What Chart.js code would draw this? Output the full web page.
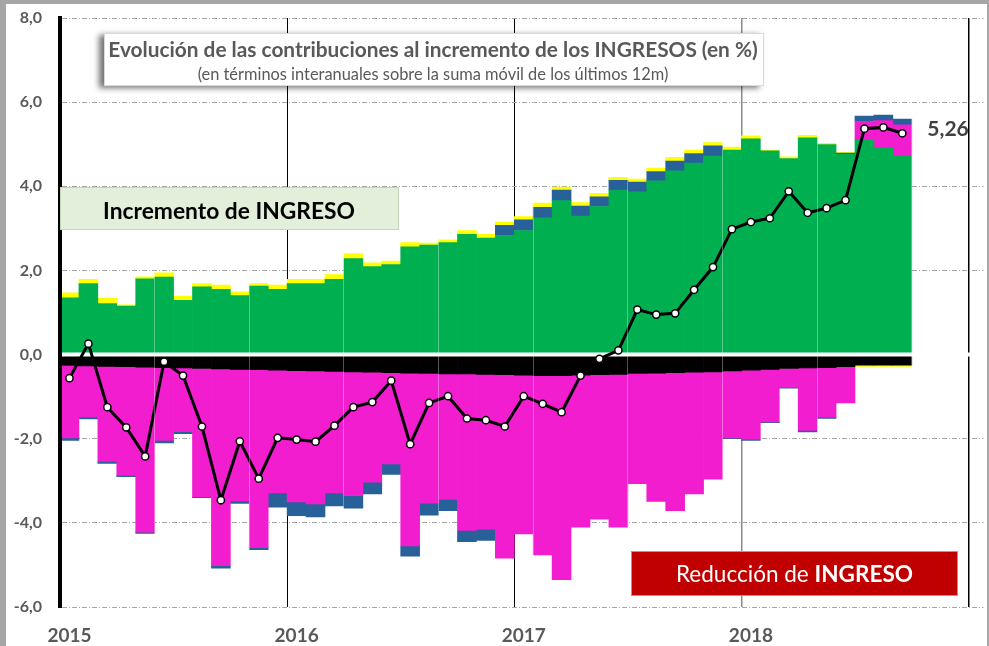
<!DOCTYPE html>
<html>
<head>
<meta charset="utf-8">
<script src="https://cdn.jsdelivr.net/npm/chart.js@4.4.1/dist/chart.umd.min.js"></script>
<style>
html,body{margin:0;padding:0;background:#fff;overflow:hidden}
canvas{display:block}
</style>
</head>
<body>
<canvas id="c" width="989" height="646"></canvas>
<script>
// ---------- DATA ----------
const months = ['ene-15','feb-15','mar-15','abr-15','may-15','jun-15','jul-15','ago-15','sep-15','oct-15','nov-15','dic-15',
                'ene-16','feb-16','mar-16','abr-16','may-16','jun-16','jul-16','ago-16','sep-16','oct-16','nov-16','dic-16',
                'ene-17','feb-17','mar-17','abr-17','may-17','jun-17','jul-17','ago-17','sep-17','oct-17','nov-17','dic-17',
                'ene-18','feb-18','mar-18','abr-18','may-18','jun-18','jul-18','ago-18','sep-18'];

const green   = [1.35,1.69,1.21,1.15,1.80,1.84,1.29,1.61,1.55,1.40,1.63,1.55,1.69,1.69,1.79,2.28,2.09,2.14,2.56,2.60,2.66,2.86,2.77,2.83,2.95,3.25,3.66,3.29,3.52,3.91,3.87,4.13,4.37,4.55,4.72,4.86,5.13,4.84,4.66,5.15,4.99,4.76,5.10,4.91,4.71];
const black   = [-0.26,-0.27,-0.28,-0.29,-0.30,-0.31,-0.32,-0.33,-0.34,-0.35,-0.36,-0.37,-0.38,-0.39,-0.40,-0.41,-0.42,-0.43,-0.44,-0.45,-0.46,-0.46,-0.47,-0.48,-0.49,-0.50,-0.50,-0.49,-0.48,-0.47,-0.45,-0.44,-0.43,-0.42,-0.41,-0.39,-0.37,-0.35,-0.33,-0.32,-0.31,-0.29,-0.25,-0.25,-0.25];
const magenta = [-1.72,-1.21,-2.26,-2.58,-3.92,-1.73,-1.51,-3.05,-4.68,-3.13,-4.23,-2.92,-3.12,-3.16,-2.89,-2.94,-2.61,-2.17,-4.11,-3.08,-2.98,-3.72,-3.68,-4.36,-3.77,-4.26,-4.85,-3.61,-3.43,-3.63,-2.62,-3.05,-3.28,-2.89,-2.55,-1.59,-1.64,-1.25,-0.45,-1.48,-1.18,-0.86,0.44,0.65,0.75];
const blue    = [-0.06,-0.05,-0.05,-0.03,-0.03,-0.06,-0.05,-0.02,-0.06,-0.06,-0.05,-0.34,-0.33,-0.31,-0.31,-0.30,-0.28,-0.25,-0.24,-0.29,-0.27,-0.27,-0.27,0.24,0.25,0.25,0.25,0.24,0.23,0.23,0.23,0.22,0.23,0.23,0.24,-0.02,-0.03,-0.02,-0.02,-0.04,-0.03,0.03,0.13,0.13,0.14];
const yellow  = [0.12,0.10,0.13,0.03,0.05,0.10,0.10,0.08,0.10,0.09,0.06,0.10,0.10,0.10,0.11,0.12,0.09,0.08,0.10,0.05,0.07,0.09,0.09,0.08,0.08,0.10,0.07,0.08,0.08,0.07,0.07,0.08,0.09,0.08,0.08,0.07,0.07,0.02,0.04,0.06,0.03,0.02,-0.03,-0.03,-0.03];
const total   = [-0.56,0.26,-1.25,-1.73,-2.42,-0.17,-0.50,-1.71,-3.46,-2.06,-2.95,-1.98,-2.02,-2.07,-1.69,-1.25,-1.13,-0.62,-2.13,-1.15,-0.99,-1.52,-1.56,-1.71,-0.99,-1.17,-1.37,-0.50,-0.10,0.10,1.07,0.95,0.98,1.54,2.08,2.98,3.15,3.24,3.88,3.37,3.48,3.67,5.37,5.40,5.26];

const yearTicks  = [0,12,24,36,48];
const yearLabels = ['2015','2016','2017','2018',''];
const minorTicks = [5,10,15,20,25,30,35,40,45];

const titleText    = 'Evolución de las contribuciones al incremento de los INGRESOS (en %)';
const subtitleText = '(en términos interanuales sobre la suma móvil de los últimos 12m)';
const incText      = 'Incremento de INGRESO';
const redTextA     = 'Reducción de ';
const redTextB     = 'INGRESO';

// ---------- STYLE ----------
const FONT = 'Lato, "Open Sans", "DejaVu Sans", sans-serif';
const GRAY_TXT = '#595959';
const pts = arr => arr.map((v, i) => ({x: i + 0.5, y: v}));
const fmt = v => v.toFixed(2).replace('.', ',');

function fitSize(ctx, text, weight, target, base) {
  ctx.font = weight + ' ' + base + 'px ' + FONT;
  return base * target / ctx.measureText(text).width;
}

const framePlugin = {
  id: 'frame',
  beforeDraw(chart) {
    const c = chart.ctx;
    c.save();
    c.fillStyle = '#A6A6A6';
    c.fillRect(0, 0, chart.width, chart.height);
    c.fillStyle = '#FFFFFF';
    c.fillRect(6, 4, chart.width - 8, chart.height - 4);
    c.restore();
  }
};

const zeroLinePlugin = {
  id: 'zeroLine',
  beforeDatasetDraw(chart, args) {
    if (args.index !== 0) return;
    const c = chart.ctx;
    const y = chart.scales.y.getPixelForValue(0);
    c.save();
    c.strokeStyle = '#FFFFFF';
    c.lineWidth = 4;
    c.beginPath();
    c.moveTo(chart.chartArea.left + 2, y);
    c.lineTo(chart.chartArea.right, y);
    c.stroke();
    c.restore();
  }
};

const overlayPlugin = {
  id: 'overlay',
  afterDraw(chart) {
    const c = chart.ctx;
    c.save();
    // title box with shadow
    c.shadowColor = 'rgba(0,0,0,0.55)';
    c.shadowBlur = 6;
    c.shadowOffsetX = -5;
    c.shadowOffsetY = 2;
    c.fillStyle = '#FFFFFF';
    c.fillRect(104, 33, 660, 53);
    c.shadowColor = 'rgba(0,0,0,0)';
    c.shadowBlur = 0; c.shadowOffsetX = 0; c.shadowOffsetY = 0;
    c.strokeStyle = '#D9D9D9';
    c.lineWidth = 1;
    c.strokeRect(104.5, 33.5, 659, 52);

    c.fillStyle = GRAY_TXT;
    c.textAlign = 'center';
    c.textBaseline = 'alphabetic';
    let s = fitSize(c, titleText, 'bold', 650, 17);
    c.font = 'bold ' + s + 'px ' + FONT;
    c.fillText(titleText, 433, 56.5);
    s = fitSize(c, subtitleText, 'normal', 471, 13);
    c.font = 'normal ' + s + 'px ' + FONT;
    c.fillText(subtitleText, 433, 80);

    // Incremento box
    c.fillStyle = '#E2EFDA';
    c.fillRect(60, 187, 339, 43);
    c.strokeStyle = '#C3D6B8';
    c.strokeRect(60.5, 187.5, 338, 42);
    c.fillStyle = '#000000';
    s = fitSize(c, incText, 'bold', 252, 21);
    c.font = 'bold ' + s + 'px ' + FONT;
    c.fillText(incText, 229, 218.5);

    // Reducción box
    c.fillStyle = '#C00000';
    c.fillRect(631, 551, 327, 45);
    c.strokeStyle = '#C98C8C';
    c.strokeRect(631.5, 551.5, 326, 44);
    c.font = 'normal 22px ' + FONT;
    const wa = c.measureText(redTextA).width;
    c.font = 'bold 22px ' + FONT;
    const wb = c.measureText(redTextB).width;
    const k = 237 / (wa + wb);
    const sz = 22 * k;
    const x0 = 794.5 - (wa + wb) * k / 2;
    c.fillStyle = '#FFFFFF';
    c.textAlign = 'left';
    c.font = 'normal ' + sz + 'px ' + FONT;
    c.fillText(redTextA, x0, 581.5);
    c.font = 'bold ' + sz + 'px ' + FONT;
    c.fillText(redTextB, x0 + wa * k, 581.5);

    // last value label
    const last = total.length - 1;
    const px = chart.scales.x.getPixelForValue(last + 0.5);
    const py = chart.scales.y.getPixelForValue(total[last]);
    c.fillStyle = '#404040';
    c.font = 'bold 21px ' + FONT;
    c.textAlign = 'left';
    c.textBaseline = 'middle';
    c.fillText(fmt(total[last]), px + 25, py - 4);
    c.restore();
  }
};

const barDefaults = {type: 'bar', stack: 'a', order: 1, barPercentage: 1, categoryPercentage: 1, borderWidth: 0};

new Chart(document.getElementById('c'), {
  type: 'bar',
  data: {
    labels: months,
    datasets: [
      {type: 'line', label: 'Total', data: pts(total), order: 0, stack: 'line',
       borderColor: '#000000', borderWidth: 3, tension: 0,
       pointRadius: 3.6, pointBackgroundColor: '#FFFFFF', pointBorderColor: '#000000', pointBorderWidth: 1.5},
      Object.assign({label: 'Verde', data: pts(green), backgroundColor: '#00B050'}, barDefaults),
      Object.assign({label: 'Negro', data: pts(black), backgroundColor: '#000000'}, barDefaults),
      Object.assign({label: 'Magenta', data: pts(magenta), backgroundColor: '#F11DCF'}, barDefaults),
      Object.assign({label: 'Azul', data: pts(blue), backgroundColor: '#28609A'}, barDefaults),
      Object.assign({label: 'Amarillo', data: pts(yellow), backgroundColor: '#FFFF00'}, barDefaults)
    ]
  },
  options: {
    responsive: false,
    devicePixelRatio: 1,
    animation: false,
    events: [],
    layout: {padding: {top: 18, right: 2, left: 0, bottom: 0}},
    plugins: {legend: {display: false}, tooltip: {enabled: false}},
    scales: {
      x: {
        type: 'linear', position: 'bottom', min: 0, max: 48.79, offset: false,
        afterBuildTicks: s => { s.ticks = yearTicks.map(v => ({value: v})); },
        ticks: {autoSkip: false, maxRotation: 0, labelOffset: 9.5, padding: 17,
                color: GRAY_TXT, font: {family: FONT, size: 19, weight: 'bold'},
                callback: (v, i) => yearLabels[i]},
        grid: {drawTicks: false, offset: false,
               color: c => ['rgba(0,0,0,0)', '#000000', '#000000', '#8C8C8C', '#000000'][c.index],
               lineWidth: c => [1, 1, 1, 1.5, 1.5][c.index]},
        border: {display: false},
        afterFit: s => { s.height = 39; s.paddingLeft = 0; s.paddingRight = 0; }
      },
      xMinor: {
        type: 'linear', position: 'bottom', min: 0, max: 48.79, offset: false,
        afterBuildTicks: s => { s.ticks = minorTicks.map(v => ({value: v})); },
        ticks: {display: false},
        grid: {drawTicks: false, offset: false, color: 'rgba(255,255,255,0.32)', lineWidth: 1, z: 1},
        border: {display: false},
        afterFit: s => { s.height = 0; s.paddingLeft = 0; s.paddingRight = 0; }
      },
      y: {
        min: -6, max: 8, stacked: true,
        ticks: {stepSize: 2, padding: 18, color: GRAY_TXT,
                font: {family: FONT, size: 16, weight: 'bold'},
                callback: v => v.toFixed(1).replace('.', ',')},
        grid: {drawTicks: false, lineWidth: 1,
               color: c => c.tick && c.tick.value === 0 ? 'rgba(0,0,0,0)' : '#A6A6A6'},
        border: {display: true, color: '#000000', width: 4, dash: [5, 2, 1, 2], z: 1},
        afterFit: s => { s.width = 60; s.paddingTop = 0; s.paddingBottom = 0; }
      }
    }
  },
  plugins: [framePlugin, zeroLinePlugin, overlayPlugin]
});
</script>
</body>
</html>
